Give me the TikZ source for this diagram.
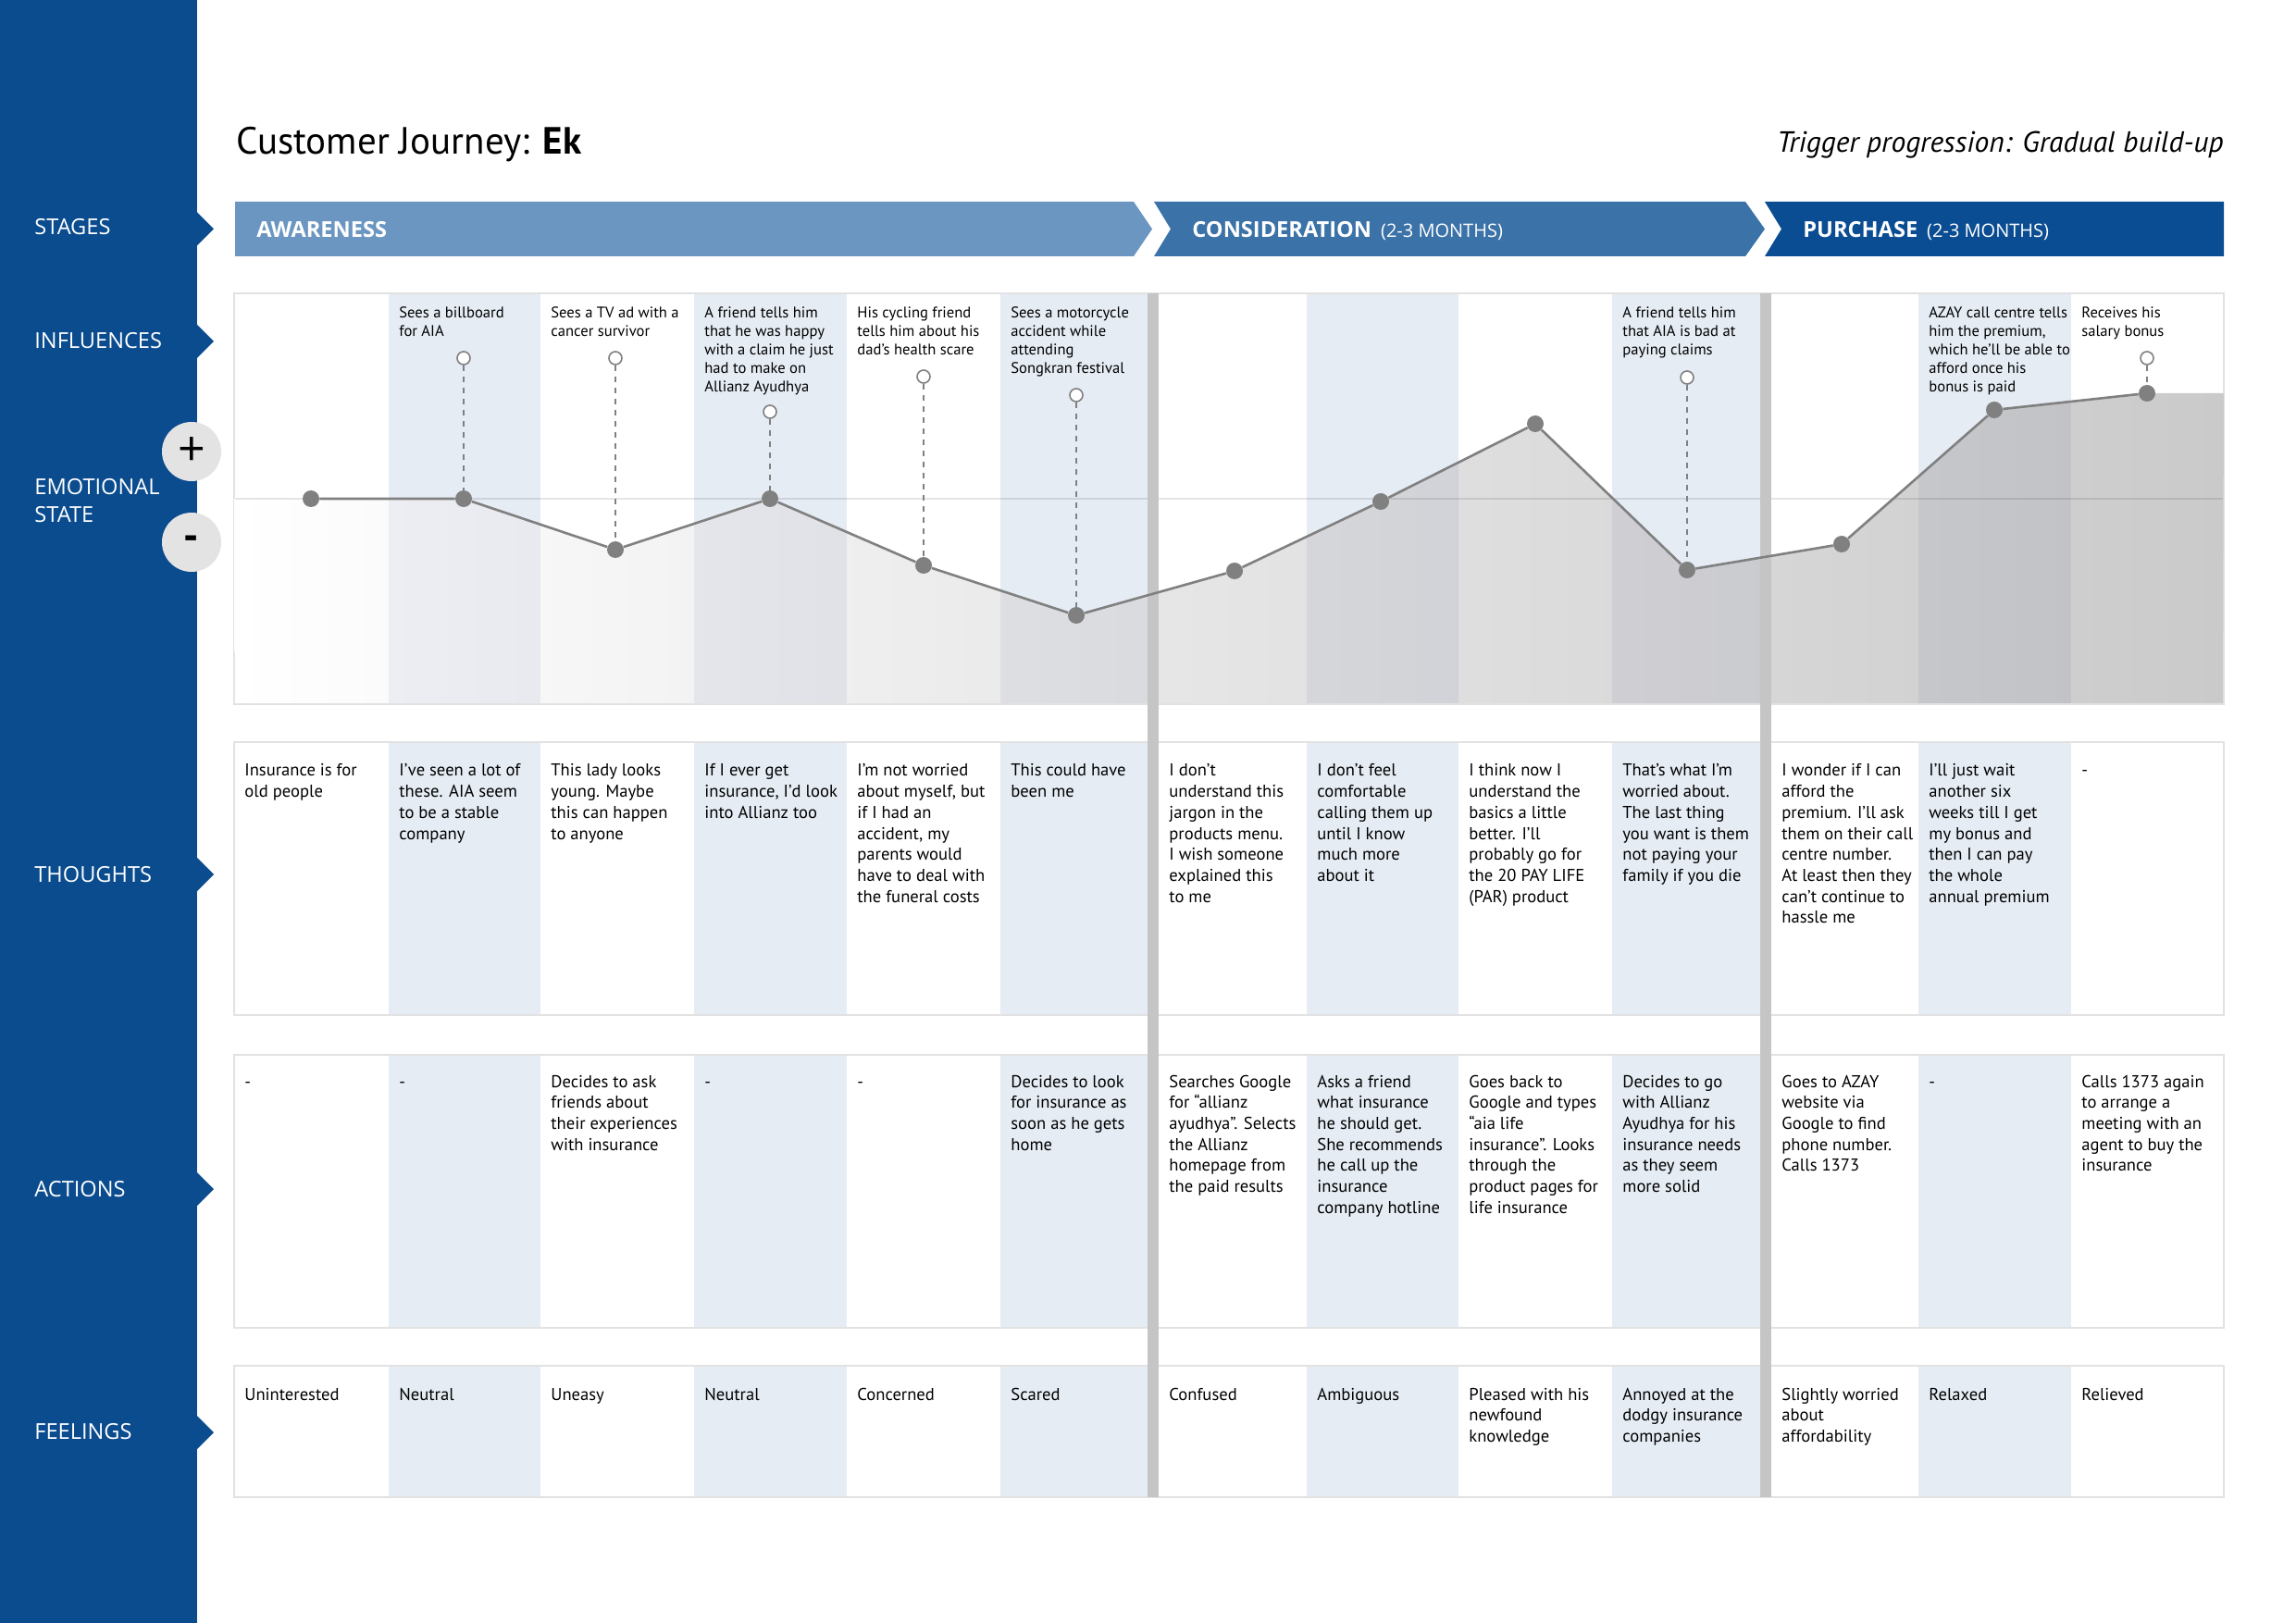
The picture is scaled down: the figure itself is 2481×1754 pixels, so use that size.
\documentclass[tikz,border=0pt]{standalone}
\usepackage{fontspec}
\setmainfont{PT Sans}
\newfontfamily\capsfont{Open Sans}
\definecolor{bandblue}{RGB}{11,76,143}
\definecolor{awblue}{RGB}{106,150,193}
\definecolor{coblue}{RGB}{59,114,168}
\definecolor{publue}{RGB}{11,77,146}
\definecolor{tint}{RGB}{229,236,244}
\definecolor{filltint}{RGB}{241,242,247}
\definecolor{fillend}{RGB}{202,202,202}
\definecolor{framegray}{RGB}{226,226,226}
\definecolor{sepgray}{RGB}{197,197,197}
\definecolor{linegray}{RGB}{128,128,128}
\definecolor{btngray}{RGB}{227,227,227}
\newcommand\inflfont{\fontsize{8.3}{10}\selectfont}
\newcommand\bodyfont{\fontsize{9.3}{11.35}\selectfont}
\begin{document}
\begin{tikzpicture}[x=0.5pt,y=-0.5pt,
  sidelabel/.style={anchor=base west,inner sep=0pt,text=white,font=\capsfont\fontsize{11.8}{15}\selectfont},
  stagelabel/.style={anchor=base west,inner sep=0pt,text=white,font=\capsfont\fontsize{11.8}{12}\selectfont\bfseries},
  inflcell/.style={anchor=base west,inner sep=0pt,font=\inflfont},
  bodycell/.style={anchor=base west,inner sep=0pt,font=\bodyfont},
  emodot/.style={circle,fill=linegray,inner sep=0pt,minimum size=9pt},
  hollow/.style={circle,draw=linegray,fill=white,line width=0.8pt,inner sep=0pt,minimum size=7pt},
  dashline/.style={draw=linegray,line width=0.6pt,dash pattern=on 3pt off 3pt},
  curve/.style={draw=linegray,line width=1.3pt},
  btn/.style={circle,fill=btngray,inner sep=0pt,minimum size=32pt},
  framebox/.style={draw=framegray,line width=1.2pt}
]
\useasboundingbox (0,0) rectangle (2481,1754);
% left band
\fill[bandblue] (0,0) rectangle (213,1754);
\foreach \c in {247.5,369,945,1285,1548}{
  \fill[bandblue] (213,{\c-18}) -- (231,\c) -- (213,{\c+18}) -- cycle;
}
\node[sidelabel] (lstages) at (37,254) {STAGES};
\node[sidelabel] (linfl) at (37,377) {INFLUENCES};
\node[sidelabel] (lemo) at (37,535) {\parbox[t]{80pt}{EMOTIONAL\\STATE}};
\node[sidelabel] (lthought) at (37,953) {THOUGHTS};
\node[sidelabel] (lact) at (37,1293) {ACTIONS};
\node[sidelabel] (lfeel) at (37,1555) {FEELINGS};

% title
\node[anchor=base west,inner sep=0pt,font=\fontsize{20.5}{22}\selectfont] (title) at (255,167) {Customer Journey: \textbf{Ek}};
\node[anchor=base east,inner sep=0pt,font=\fontsize{15.8}{17}\selectfont\itshape] (trigger) at (2403,165) {Trigger progression: Gradual build-up};

% stage bars
\fill[awblue] (254,218) -- (1225,218) -- (1245,247.5) -- (1225,277) -- (254,277) -- cycle;
\fill[coblue] (1247,218) -- (1886,218) -- (1907,247.5) -- (1886,277) -- (1247,277) -- (1265,247.5) -- cycle;
\fill[publue] (1907,218) -- (2403,218) -- (2403,277) -- (1907,277) -- (1925,247.5) -- cycle;
\node[stagelabel] (saw) at (277,257) {AWARENESS};
\node[stagelabel] (sco) at (1288,257) {CONSIDERATION\hspace{5pt}{\mdseries\fontsize{10}{10}\selectfont (2-3 MONTHS)}};
\node[stagelabel] (spu) at (1948,257) {PURCHASE\hspace{5pt}{\mdseries\fontsize{10}{10}\selectfont (2-3 MONTHS)}};

% tinted columns
\foreach \a/\b in {420/584,750/915,1081/1240,1412/1576,1742/1902,2073/2238}{
  \foreach \t/\u in {317/761,802/1097,1140/1435,1476/1618}{
    \fill[tint] (\a,\t) rectangle (\b,\u);
  }
}
% frames
\draw[framebox] (253,317) rectangle (2403,761);
\draw[framebox] (253,802) rectangle (2403,1097);
\draw[framebox] (253,1140) rectangle (2403,1435);
\draw[framebox] (253,1476) rectangle (2403,1618);

% emotion coordinates
\coordinate (c1) at (336,539);
\coordinate (c2) at (501,539);
\coordinate (c3) at (665,594);
\coordinate (c4) at (832,539);
\coordinate (c5) at (998,611);
\coordinate (c6) at (1163,665);
\coordinate (c7) at (1334,617);
\coordinate (c8) at (1492,542);
\coordinate (c9) at (1659,458);
\coordinate (c10) at (1823,616);
\coordinate (c11) at (1990,588);
\coordinate (c12) at (2155,443);
\coordinate (c13) at (2320,425);
\coordinate (cend) at (2403,425);

\begin{scope}
\clip (253,539) -- (c1) -- (c2) -- (c3) -- (c4) -- (c5) -- (c6) -- (c7) -- (c8) -- (c9) -- (c10) -- (c11) -- (c12) -- (c13) -- (cend) -- (2402,760) -- (254,760) -- cycle;
\shade[left color=white,right color=fillend] (253,317) rectangle (2403,761);
\begin{scope}[blend mode=multiply]
\foreach \a/\b in {420/584,750/915,1081/1240,1412/1576,1742/1902,2073/2238}{
  \fill[filltint] (\a,317) rectangle (\b,761);
}
\end{scope}
\end{scope}

% neutral line
\draw[black!10,line width=1.3pt,blend mode=multiply] (254,539) -- (2402,539);

% separators
\fill[sepgray] (1240,317) rectangle (1252,1618);
\fill[sepgray] (1902,317) rectangle (1914,1618);

% influence markers
\node[hollow] (m2) at (501,387) {};
\node[hollow] (m3) at (665,387) {};
\node[hollow] (m4) at (832,445) {};
\node[hollow] (m5) at (998,407) {};
\node[hollow] (m6) at (1163,427) {};
\node[hollow] (m10) at (1823,408) {};
\node[hollow] (m13) at (2320,387) {};

% emotion dots
\foreach \i in {1,...,13}{ \node[emodot] (p\i) at (c\i) {}; }
\draw[curve] (p1) -- (p2) -- (p3) -- (p4) -- (p5) -- (p6) -- (p7) -- (p8) -- (p9) -- (p10) -- (p11) -- (p12) -- (p13);
\draw[dashline] (m2) -- (p2);
\draw[dashline] (m3) -- (p3);
\draw[dashline] (m4) -- (p4);
\draw[dashline] (m5) -- (p5);
\draw[dashline] (m6) -- (p6);
\draw[dashline] (m10) -- (p10);
\draw[dashline] (m13) -- (p13);

% plus / minus buttons
\node[btn,font=\capsfont\fontsize{26}{26}\selectfont] (plus) at (207,488) {+};
\node[btn,font=\capsfont\fontsize{22}{22}\selectfont\bfseries] (minus) at (207,586) {-};

% influences
\node[inflcell] (i2) at (431,344) {\parbox[t]{120pt}{Sees a billboard\\for AIA}};
\node[inflcell] (i3) at (595,344) {\parbox[t]{120pt}{Sees a TV ad with a\\cancer survivor}};
\node[inflcell] (i4) at (761,344) {\parbox[t]{120pt}{A friend tells him\\that he was happy\\with a claim he just\\had to make on\\Allianz Ayudhya}};
\node[inflcell] (i5) at (926,344) {\parbox[t]{120pt}{His cycling friend\\tells him about his\\dad’s health scare}};
\node[inflcell] (i6) at (1092,344) {\parbox[t]{120pt}{Sees a motorcycle\\accident while\\attending\\Songkran festival}};
\node[inflcell] (i10) at (1753,344) {\parbox[t]{120pt}{A friend tells him\\that AIA is bad at\\paying claims}};
\node[inflcell] (i12) at (2084,344) {\parbox[t]{120pt}{AZAY call centre tells\\him the premium,\\which he’ll be able to\\afford once his\\bonus is paid}};
\node[inflcell] (i13) at (2249,344) {\parbox[t]{120pt}{Receives his\\salary bonus}};

% thoughts
\node[bodycell] (t1) at (264,839) {\parbox[t]{120pt}{Insurance is for\\old people}};
\node[bodycell] (t2) at (431,839) {\parbox[t]{120pt}{I’ve seen a lot of\\these. AIA seem\\to be a stable\\company}};
\node[bodycell] (t3) at (595,839) {\parbox[t]{120pt}{This lady looks\\young. Maybe\\this can happen\\to anyone}};
\node[bodycell] (t4) at (761,839) {\parbox[t]{120pt}{If I ever get\\insurance, I’d look\\into Allianz too}};
\node[bodycell] (t5) at (926,839) {\parbox[t]{120pt}{I’m not worried\\about myself, but\\if I had an\\accident, my\\parents would\\have to deal with\\the funeral costs}};
\node[bodycell] (t6) at (1092,839) {\parbox[t]{120pt}{This could have\\been me}};
\node[bodycell] (t7) at (1263,839) {\parbox[t]{120pt}{I don’t\\understand this\\jargon in the\\products menu.\\I wish someone\\explained this\\to me}};
\node[bodycell] (t8) at (1423,839) {\parbox[t]{120pt}{I don’t feel\\comfortable\\calling them up\\until I know\\much more\\about it}};
\node[bodycell] (t9) at (1587,839) {\parbox[t]{120pt}{I think now I\\understand the\\basics a little\\better. I’ll\\probably go for\\the 20 PAY LIFE\\(PAR) product}};
\node[bodycell] (t10) at (1753,839) {\parbox[t]{120pt}{That’s what I’m\\worried about.\\The last thing\\you want is them\\not paying your\\family if you die}};
\node[bodycell] (t11) at (1925,839) {\parbox[t]{120pt}{I wonder if I can\\afford the\\premium. I’ll ask\\them on their call\\centre number.\\At least then they\\can’t continue to\\hassle me}};
\node[bodycell] (t12) at (2084,839) {\parbox[t]{120pt}{I’ll just wait\\another six\\weeks till I get\\my bonus and\\then I can pay\\the whole\\annual premium}};
\node[bodycell] (t13) at (2249,839) {-};

% actions
\node[bodycell] (a1) at (264,1175) {-};
\node[bodycell] (a2) at (431,1175) {-};
\node[bodycell] (a3) at (595,1175) {\parbox[t]{120pt}{Decides to ask\\friends about\\their experiences\\with insurance}};
\node[bodycell] (a4) at (761,1175) {-};
\node[bodycell] (a5) at (926,1175) {-};
\node[bodycell] (a6) at (1092,1175) {\parbox[t]{120pt}{Decides to look\\for insurance as\\soon as he gets\\home}};
\node[bodycell] (a7) at (1263,1175) {\parbox[t]{120pt}{Searches Google\\for “allianz\\ayudhya”. Selects\\the Allianz\\homepage from\\the paid results}};
\node[bodycell] (a8) at (1423,1175) {\parbox[t]{120pt}{Asks a friend\\what insurance\\he should get.\\She recommends\\he call up the\\insurance\\company hotline}};
\node[bodycell] (a9) at (1587,1175) {\parbox[t]{120pt}{Goes back to\\Google and types\\“aia life\\insurance”. Looks\\through the\\product pages for\\life insurance}};
\node[bodycell] (a10) at (1753,1175) {\parbox[t]{120pt}{Decides to go\\with Allianz\\Ayudhya for his\\insurance needs\\as they seem\\more solid}};
\node[bodycell] (a11) at (1925,1175) {\parbox[t]{120pt}{Goes to AZAY\\website via\\Google to find\\phone number.\\Calls 1373}};
\node[bodycell] (a12) at (2084,1175) {-};
\node[bodycell] (a13) at (2249,1175) {\parbox[t]{120pt}{Calls 1373 again\\to arrange a\\meeting with an\\agent to buy the\\insurance}};

% feelings
\node[bodycell] (f1) at (264,1513) {Uninterested};
\node[bodycell] (f2) at (431,1513) {Neutral};
\node[bodycell] (f3) at (595,1513) {Uneasy};
\node[bodycell] (f4) at (761,1513) {Neutral};
\node[bodycell] (f5) at (926,1513) {Concerned};
\node[bodycell] (f6) at (1092,1513) {Scared};
\node[bodycell] (f7) at (1263,1513) {Confused};
\node[bodycell] (f8) at (1423,1513) {Ambiguous};
\node[bodycell] (f9) at (1587,1513) {\parbox[t]{120pt}{Pleased with his\\newfound\\knowledge}};
\node[bodycell] (f10) at (1753,1513) {\parbox[t]{120pt}{Annoyed at the\\dodgy insurance\\companies}};
\node[bodycell] (f11) at (1925,1513) {\parbox[t]{120pt}{Slightly worried\\about\\affordability}};
\node[bodycell] (f12) at (2084,1513) {Relaxed};
\node[bodycell] (f13) at (2249,1513) {Relieved};
\end{tikzpicture}
\end{document}
